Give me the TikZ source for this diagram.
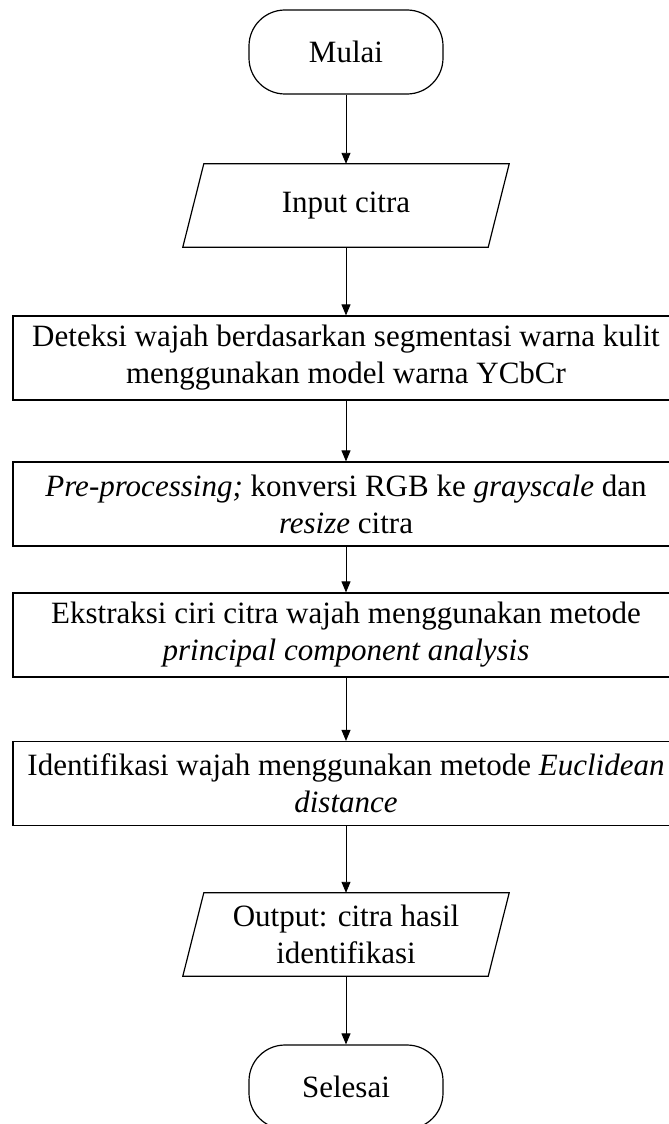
\documentclass[tikz,border=0pt]{standalone}
\usepackage{fontspec}
\setmainfont{Liberation Serif}
\usetikzlibrary{arrows.meta}

\begin{document}
\begin{tikzpicture}[x=1pt,y=-1pt,
  every node/.style={font=\fontsize{31}{37}\selectfont, inner sep=0pt, align=center},
  term/.style={draw, line width=1.2pt, rounded corners=36pt, minimum width=194pt, minimum height=84pt},
  procbox/.style={draw, line width=1.2pt, minimum width=666pt, minimum height=84pt},
  iobody/.style={minimum width=305pt, minimum height=83pt},
  iopath/.style={line width=1.2pt},
  flow/.style={line width=0.9pt, -{Triangle[length=11pt,width=9pt]}}
]
  \useasboundingbox (0,0) rectangle (669,1124);
  \clip (0,0) rectangle (669,1124);

  % terminators, processes and input/output steps
  \node[term] (mulai) at (346,52) {Mulai};

  \node[iobody] (inp) at (346,205.5) {Input citra};
  \draw[iopath] ([xshift=10.5pt]inp.north west) -- ([xshift=10.5pt]inp.north east)
    -- ([xshift=-10.5pt]inp.south east) -- ([xshift=-10.5pt]inp.south west) -- cycle;

  \node[procbox] (deteksi) at (346,358)
    {Deteksi wajah berdasarkan segmentasi warna kulit\\menggunakan model warna YCbCr};

  \node[procbox] (pre) at (346,504)
    {\textit{Pre-processing;} konversi RGB ke \textit{grayscale} dan\\\textit{resize} citra};

  \node[procbox] (ekstraksi) at (346,635)
    {Ekstraksi ciri citra wajah menggunakan metode\\\textit{principal component analysis}};

  \node[procbox] (ident) at (346,783.5)
    {Identifikasi wajah menggunakan metode \textit{Euclidean}\\\textit{distance}};

  \node[iobody] (out) at (346,934.5) {Output: citra hasil\\identifikasi};
  \draw[iopath] ([xshift=10.5pt]out.north west) -- ([xshift=10.5pt]out.north east)
    -- ([xshift=-10.5pt]out.south east) -- ([xshift=-10.5pt]out.south west) -- cycle;

  \node[term] (selesai) at (346,1087) {Selesai};

  % flow lines
  \draw[flow] (mulai) -- (inp);
  \draw[flow] (inp) -- (deteksi);
  \draw[flow] (deteksi) -- (pre);
  \draw[flow] (pre) -- (ekstraksi);
  \draw[flow] (ekstraksi) -- (ident);
  \draw[flow] (ident) -- (out);
  \draw[flow] (out) -- (selesai);
\end{tikzpicture}
\end{document}
